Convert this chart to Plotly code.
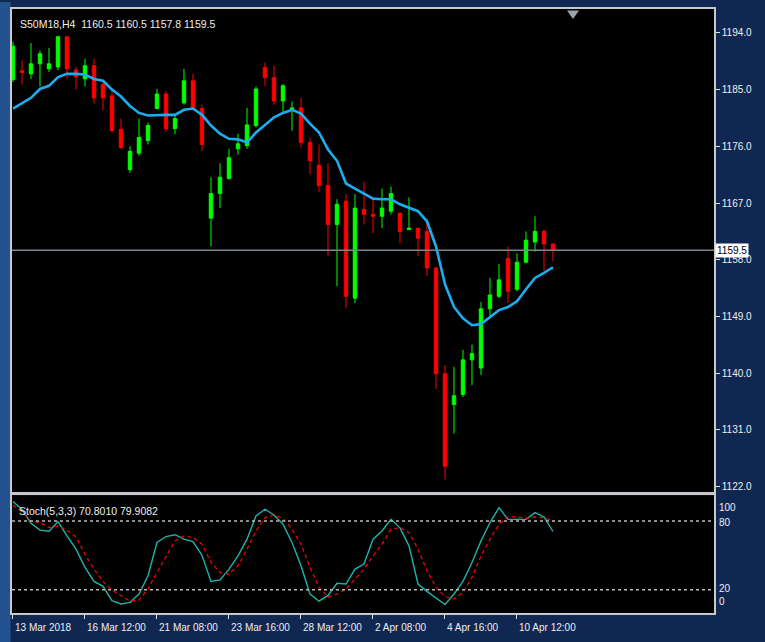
import plotly.graph_objects as go

# ---------------- data ----------------
bar_index = list(range(61))

open_ = [1186.6, 1188.0, 1187.5, 1189.1, 1188.3, 1188.6, 1193.4, 1188.1, 1186.7, 1188.8,
         1185.8, 1184.0, 1178.7, 1172.3, 1174.9, 1176.9, 1182.0, 1184.3, 1178.8, 1182.9,
         1186.4, 1182.0, 1164.6, 1168.5, 1170.9, 1175.6, 1176.1, 1179.3, 1188.5, 1186.9,
         1183.2, 1181.7, 1182.1, 1176.6, 1173.0, 1169.8, 1163.6, 1167.3, 1151.9, 1166.0,
         1165.2, 1164.9, 1165.7, 1165.4, 1162.8, 1163.0, 1162.5, 1156.7, 1139.9, 1135.0,
         1136.6, 1142.1, 1140.8, 1150.2, 1152.2, 1158.2, 1153.3, 1157.6, 1160.8, 1162.5,
         1160.5]
high = [1192.6, 1189.6, 1192.4, 1191.2, 1191.6, 1193.4, 1193.4, 1188.6, 1189.9, 1189.9,
        1186.2, 1185.1, 1180.4, 1176.0, 1180.4, 1179.8, 1185.1, 1184.8, 1181.0, 1188.3,
        1187.5, 1182.6, 1171.1, 1173.3, 1175.6, 1178.0, 1182.1, 1185.5, 1189.3, 1188.8,
        1185.9, 1183.1, 1183.7, 1177.4, 1176.3, 1173.3, 1167.6, 1168.4, 1168.4, 1170.4,
        1167.7, 1169.3, 1169.6, 1165.4, 1167.9, 1163.0, 1164.4, 1156.7, 1141.3, 1141.0,
        1143.7, 1144.5, 1151.3, 1155.1, 1157.3, 1160.1, 1159.0, 1162.5, 1164.9, 1162.8,
        1160.5]
low = [1186.2, 1185.8, 1186.7, 1185.5, 1187.8, 1188.1, 1186.7, 1185.0, 1185.5, 1182.8,
       1181.7, 1178.2, 1175.6, 1171.8, 1174.5, 1176.3, 1182.0, 1178.3, 1177.9, 1182.6,
       1181.7, 1175.3, 1160.1, 1166.2, 1170.7, 1174.7, 1175.6, 1179.0, 1185.6, 1182.6,
       1181.5, 1178.5, 1175.8, 1171.5, 1168.7, 1158.6, 1153.8, 1150.3, 1151.1, 1163.6,
       1162.2, 1163.0, 1165.2, 1160.6, 1162.8, 1158.6, 1155.4, 1137.5, 1123.1, 1130.4,
       1136.2, 1138.1, 1139.7, 1149.1, 1151.9, 1151.1, 1153.0, 1157.4, 1159.3, 1156.3,
       1157.8]
close = [1191.9, 1187.7, 1189.1, 1190.7, 1189.1, 1193.4, 1188.3, 1187.0, 1188.8, 1183.7,
         1183.7, 1178.5, 1175.8, 1175.2, 1177.4, 1179.3, 1184.3, 1178.8, 1180.4, 1186.4,
         1182.0, 1176.3, 1168.5, 1171.1, 1174.2, 1176.4, 1179.4, 1185.1, 1186.9, 1183.2,
         1185.6, 1182.1, 1176.6, 1173.7, 1169.8, 1163.6, 1166.8, 1152.2, 1166.2, 1165.2,
         1164.9, 1166.2, 1168.5, 1162.5, 1163.0, 1161.4, 1156.7, 1139.9, 1125.2, 1136.4,
         1142.1, 1143.1, 1150.2, 1152.4, 1154.8, 1153.0, 1157.6, 1161.1, 1162.5, 1160.5,
         1159.5]
moving_avg = [1182.0, 1182.8, 1183.7, 1185.1, 1185.6, 1187.0, 1187.5, 1187.5, 1187.4, 1186.7,
              1186.4, 1185.0, 1183.9, 1182.4, 1181.3, 1180.9, 1181.0, 1181.0, 1181.0, 1181.8,
              1182.0, 1181.0, 1179.3, 1178.0, 1177.2, 1177.1, 1176.6, 1178.2, 1179.4, 1180.6,
              1181.3, 1181.8, 1181.2, 1179.6, 1178.2, 1175.5, 1173.7, 1170.1, 1169.3, 1168.5,
              1167.7, 1167.6, 1167.6, 1166.8, 1166.3, 1165.7, 1164.1, 1160.1, 1154.1, 1150.5,
              1148.7, 1147.6, 1147.8, 1148.9, 1150.0, 1150.5, 1151.4, 1153.3, 1155.1, 1155.9,
              1156.8]
stoch_k = [97, 90, 78, 72, 71, 79.5, 67, 55.4, 39.5, 27.3,
           23, 10.4, 7.6, 9, 16.3, 32.2, 61.2, 66.4, 68, 64.1,
           62, 50, 27.3, 28.6, 38, 49.5, 64.1, 84.3, 90.2, 85.2,
           77.1, 61.2, 40.9, 16.3, 10, 15, 25.6, 25, 38, 42.4,
           64.1, 71.3, 81.4, 74, 58.3, 25, 18.6, 12.8, 7, 16.3,
           27.3, 43.8, 62.6, 78.6, 91.6, 81.4, 81.4, 81.4, 87.3, 83.5,
           70.8]
stoch_d = [94, 88, 80, 78.6, 74.2, 75.7, 71.9, 66.1, 51, 38,
           27.3, 19.7, 14.9, 10, 11, 20.6, 35.1, 49.5, 62.6, 67,
           65.5, 59.7, 43.8, 35.1, 33.7, 40.9, 55.4, 71.3, 82.9, 85.2,
           82.3, 72.7, 59.7, 39.5, 22.2, 13.5, 16.3, 20.6, 29.3, 38,
           49.5, 59.7, 72.7, 74.2, 69.9, 55.4, 36.6, 22.2, 14, 12,
           17.7, 30.8, 49.5, 64.1, 77.1, 83.5, 83.5, 82.3, 83.5, 82.9,
           79.9]
time_tick_index = [0, 8, 16, 24, 32, 40, 48, 56]
time_tick_labels = ["13 Mar 2018", "16 Mar 12:00", "21 Mar 08:00", "23 Mar 16:00",
                    "28 Mar 12:00", "2 Apr 08:00", "4 Apr 16:00", "10 Apr 12:00"]
price_ticks = [1122.0, 1131.0, 1140.0, 1149.0, 1158.0, 1167.0, 1176.0, 1185.0, 1194.0]
stoch_levels = [80, 20]
stoch_labels = [100, 80, 20, 0]
symbol_text = "S50M18,H4  1160.5 1160.5 1157.8 1159.5"
stoch_text = "Stoch(5,3,3) 70.8010 79.9082"

# ---------------- style ----------------
FONT = "Liberation Sans, Arial, sans-serif"
W, H = 765, 642
ML, MR, MT, MB = 12, 51, 7, 29
PW = W - ML - MR  # 702
PH = H - MT - MB  # 606
X_RANGE = [-0.11, 77.89]
BORDER = "#c8c8c8"
TXT = "#eeeeee"

fig = go.Figure()

fig.add_trace(go.Candlestick(
    x=bar_index, open=open_, high=high, low=low, close=close,
    increasing=dict(line=dict(color="#00ff00", width=1), fillcolor="#00ff00"),
    decreasing=dict(line=dict(color="#ff0000", width=1), fillcolor="#ff0000"),
    whiskerwidth=0, showlegend=False, hoverinfo="skip", xaxis="x", yaxis="y"))

fig.add_trace(go.Scatter(
    x=bar_index, y=moving_avg, mode="lines",
    line=dict(color="#1aaef0", width=2.6), showlegend=False, hoverinfo="skip",
    xaxis="x", yaxis="y"))

fig.add_trace(go.Scatter(
    x=bar_index, y=stoch_k, mode="lines",
    line=dict(color="#20b2aa", width=1.4), showlegend=False, hoverinfo="skip",
    xaxis="x2", yaxis="y2"))
fig.add_trace(go.Scatter(
    x=bar_index, y=stoch_d, mode="lines",
    line=dict(color="#ff0000", width=1.2, dash="4px,3px"), showlegend=False,
    hoverinfo="skip", xaxis="x2", yaxis="y2"))

main_dom = [(613 - 492) / PH, 1.0]
stoch_dom = [0.0, (613 - 495) / PH]

fig.update_layout(
    width=W, height=H,
    margin=dict(l=ML, r=MR, t=MT, b=MB, pad=0),
    paper_bgcolor="#102752",
    plot_bgcolor="#000000",
    boxgap=0.45,
    showlegend=False,
    xaxis=dict(domain=[0, 1], range=X_RANGE, anchor="y", showticklabels=False,
               showgrid=False, zeroline=False, showline=True, mirror=True,
               linecolor=BORDER, linewidth=1.5, rangeslider=dict(visible=False),
               fixedrange=True),
    yaxis=dict(domain=main_dom, range=[1121.06, 1197.8], side="right",
               tickvals=price_ticks, ticktext=[f"{v:.1f}" for v in price_ticks],
               ticks="outside", ticklen=4, tickcolor="#e0e0e0",
               tickfont=dict(family=FONT, size=10, color=TXT),
               showgrid=False, zeroline=False, showline=True, mirror=True,
               linecolor=BORDER, linewidth=1.5),
    xaxis2=dict(domain=[0, 1], range=X_RANGE, anchor="y2",
                tickvals=time_tick_index, ticktext=["" for _ in time_tick_index],
                ticks="outside", ticklen=4, tickcolor="#e0e0e0",
                showgrid=False, zeroline=False, showline=True, mirror=True,
                linecolor=BORDER, linewidth=1.5),
    yaxis2=dict(domain=stoch_dom, range=[-0.3, 102.3], side="right",
                showticklabels=False, ticks="", showgrid=False, zeroline=False,
                showline=True, mirror=True, linecolor=BORDER, linewidth=1.5),
)

shapes = []
# current price line
shapes.append(dict(type="line", xref="x domain", yref="y", x0=0, x1=1,
                   y0=close[-1], y1=close[-1],
                   line=dict(color="#7c8590", width=1.5)))
# stochastic levels
for lv in stoch_levels:
    shapes.append(dict(type="line", xref="x2 domain", yref="y2", x0=0, x1=1,
                       y0=lv, y1=lv, line=dict(color="#b8b8b8", width=1.5, dash="dot")))
# left strip of wallpaper
shapes.append(dict(type="rect", xref="paper", yref="paper", layer="below",
                   x0=-ML / PW, x1=-0.002, y0=-MB / PH, y1=1 + MT / PH,
                   fillcolor="#24528f", line=dict(width=0)))
# chart shift marker
tx = (573 - ML) / PW
shapes.append(dict(type="path", xref="paper", yref="paper",
                   path=f"M {tx - 6/PW},{1 - 1.5/PH} L {tx + 6/PW},{1 - 1.5/PH} L {tx},{1 - 10/PH} Z",
                   fillcolor="#9aa2ac", line=dict(width=0)))
fig.update_layout(shapes=shapes)

ann = []
ann.append(dict(text=symbol_text, xref="paper", yref="paper", x=(18 - ML) / PW,
                y=(613 - 22) / PH, xanchor="left", yanchor="middle", showarrow=False,
                font=dict(family=FONT, size=10.5, color=TXT)))
ann.append(dict(text=stoch_text, xref="paper", yref="paper", x=(17 - ML) / PW,
                y=(613 - 511) / PH, xanchor="left", yanchor="middle", showarrow=False,
                font=dict(family=FONT, size=10.5, color=TXT)))
for i, lab in zip(time_tick_index, time_tick_labels):
    ann.append(dict(text=lab, xref="x2", yref="paper", x=i, y=(613 - 628) / PH,
                    xanchor="left", yanchor="middle", xshift=0, showarrow=False,
                    font=dict(family=FONT, size=10, color=TXT)))
stoch_label_y = {100: 507, 80: 522, 20: 588, 0: 601}
for v in stoch_labels:
    ann.append(dict(text=str(v), xref="paper", yref="paper", x=1, xshift=3,
                    y=(613 - stoch_label_y[v]) / PH, xanchor="left", yanchor="middle",
                    showarrow=False, font=dict(family=FONT, size=10, color=TXT)))
# current price box
ann.append(dict(text=f"{close[-1]:.1f}", xref="paper", yref="y", x=1, xshift=1,
                y=close[-1], xanchor="left", yanchor="middle", showarrow=False,
                bgcolor="#ffffff", borderpad=1,
                font=dict(family=FONT, size=10, color="#000000")))
fig.update_layout(annotations=ann)

fig.write_html("out.html", config={"displayModeBar": False},
               post_script="document.body.style.margin='0px';")
